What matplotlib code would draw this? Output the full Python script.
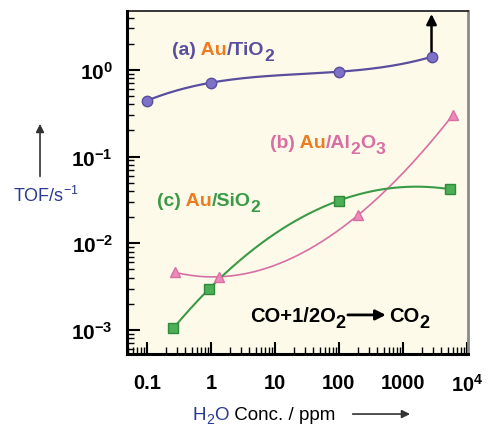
import numpy as np
import matplotlib
matplotlib.use('Agg')
import matplotlib.pyplot as plt
from matplotlib import transforms
from matplotlib.patches import FancyArrowPatch
from matplotlib.ticker import LogLocator, NullFormatter, FixedLocator, FixedFormatter

plt.rcParams['font.family'] = ['Liberation Sans', 'DejaVu Sans']
plt.rcParams['mathtext.default'] = 'regular'

# values (x: H2O conc. in ppm, y: TOF in s^-1)
tio2_x = [0.1, 1, 100, 2800]
tio2_y = [0.44, 0.71, 0.95, 1.41]
al2o3_x = [0.28, 1.33, 198, 6000]
al2o3_y = [0.0046, 0.0041, 0.021, 0.30]
sio2_x = [0.26, 0.95, 100, 5400]
sio2_y = [0.00105, 0.0030, 0.031, 0.042]

xticks = [0.1, 1, 10, 100, 1000, 1e4]
xticklabels = ['0.1', '1', '10', '100', '1000', '10$^4$']
yticks = [1e-3, 1e-2, 1e-1, 1]
yticklabels = ['10$^{-3}$', '10$^{-2}$', '10$^{-1}$', '10$^0$']

purple = '#5a4e9e'
pink = '#d86ea4'
green = '#3a9b47'
orange = '#ee7b1e'
navy = '#2b3990'

fig = plt.figure(figsize=(4.88, 4.27), dpi=100)
ax = fig.add_axes([0.260, 0.169, 0.699, 0.803])
ax.set_facecolor('#fdfae9')
ax.set_xscale('log')
ax.set_yscale('log')
ax.set_xlim(0.0487, 1.04e4)
ax.set_ylim(5.3e-4, 4.77)


def smooth(xs, ys):
    # smooth cubic through the points in log-log space
    lx, ly = np.log10(xs), np.log10(ys)
    c = np.polyfit(lx, ly, len(xs) - 1)
    t = np.linspace(lx[0], lx[-1], 200)
    return 10 ** t, 10 ** np.polyval(c, t)


ax.plot(*smooth(tio2_x, tio2_y), color=purple, lw=1.6, zorder=2)
ax.plot(tio2_x, tio2_y, 'o', ms=7.5, mfc='#7d72c8', mec=purple, mew=1, zorder=3)
ax.plot(*smooth(al2o3_x, al2o3_y), color=pink, lw=1.2, zorder=2)
ax.plot(al2o3_x, al2o3_y, '^', ms=7.5, mfc='#ee8abb', mec=pink, mew=1, zorder=3)
ax.plot(*smooth(sio2_x, sio2_y), color=green, lw=1.5, zorder=2)
ax.plot(sio2_x, sio2_y, 's', ms=6.5, mfc='#4cae55', mec='#2f8a3a', mew=1, zorder=3)

# arrow on the last TiO2 point
ax.annotate('', xy=(tio2_x[-1], 4.4), xytext=(tio2_x[-1], tio2_y[-1]),
            arrowprops=dict(arrowstyle='-|>', color='black', lw=1.8,
                            mutation_scale=15, shrinkA=4, shrinkB=0), zorder=4)

# ticks
ax.xaxis.set_major_locator(FixedLocator(xticks))
ax.xaxis.set_major_formatter(FixedFormatter(xticklabels))
ax.yaxis.set_major_locator(FixedLocator(yticks))
ax.yaxis.set_major_formatter(FixedFormatter(yticklabels))
for a in (ax.xaxis, ax.yaxis):
    a.set_minor_locator(LogLocator(base=10, subs=np.arange(2, 10), numticks=20))
    a.set_minor_formatter(NullFormatter())
ax.tick_params(which='major', direction='in', length=9, width=1.5, top=False, right=False)
ax.tick_params(which='minor', direction='in', length=5, width=1, top=False, right=False)
ax.tick_params(axis='x', which='major', pad=14, labelsize=14.5)
ax.tick_params(axis='y', which='major', pad=10, labelsize=15)
for lab in ax.get_xticklabels() + ax.get_yticklabels():
    lab.set_fontweight('bold')

ax.spines['left'].set_linewidth(2.2)
ax.spines['bottom'].set_linewidth(2.2)
ax.spines['top'].set_linewidth(1.1)
ax.spines['right'].set_linewidth(2)
ax.spines['right'].set_color('#8a8a8a')

renderer = fig.canvas.get_renderer()


def chain_text(owner, x, y, pieces, transform, size, **kw):
    # pieces: (text, colour, size factor, drop in px), one after the other on a baseline
    t = transform
    for s, c, f, dy in pieces:
        if s == 'ARROW':
            t1 = transforms.offset_copy(t, x=2, y=6, units='dots')
            t2 = transforms.offset_copy(t, x=c, y=6, units='dots')
            owner.annotate('', xy=(x, y), xycoords=t2, xytext=(x, y), textcoords=t1,
                           arrowprops=dict(arrowstyle='-|>', color='black', lw=2,
                                           mutation_scale=15, shrinkA=0, shrinkB=0))
            t = transforms.offset_copy(t, x=c + 3, units='dots')
            continue
        tt = transforms.offset_copy(t, y=-dy, units='dots')
        txt = owner.text(x, y, s, color=c, transform=tt, va='baseline', ha='left',
                         fontsize=size * f, **kw)
        ex = txt.get_window_extent(renderer)
        t = transforms.offset_copy(t, x=ex.width, units='dots')


chain_text(ax, 0.246, 1.53, [('(a)', purple, 1, 0), (' Au', orange, 1, 0),
                             ('/TiO', purple, 1, 0), ('2', purple, 0.9, 6)],
           ax.transData, 14, fontweight='bold')
chain_text(ax, 8.4, 0.130, [('(b)', pink, 1, 0), (' Au', orange, 1, 0),
                            ('/Al', pink, 1, 0), ('2', pink, 0.9, 6),
                            ('O', pink, 1, 0), ('3', pink, 0.9, 6)],
           ax.transData, 14, fontweight='bold')
chain_text(ax, 0.143, 0.0274, [('(c)', green, 1, 0), (' Au', orange, 1, 0),
                               ('/SiO', green, 1, 0), ('2', green, 0.9, 6)],
           ax.transData, 14, fontweight='bold')
chain_text(ax, 4.06, 0.00127, [('CO+1/2O', 'black', 1, 0), ('2', 'black', 0.9, 6),
                               ('ARROW', 40, 0, 0),
                               ('CO', 'black', 1, 0), ('2', 'black', 0.9, 6)],
           ax.transData, 14.5, fontweight='bold')

# axis titles
fig.text(0.027, 0.527, 'TOF/s$^{-1}$', color=navy, fontsize=13, va='baseline')
fig.add_artist(FancyArrowPatch((0.082, 0.578), (0.082, 0.714),
               transform=fig.transFigure, arrowstyle='-|>', mutation_scale=12,
               color='#333333', lw=1.2))
chain_text(fig, 0.395, 0.016, [('H', navy, 1, 0), ('2', navy, 0.75, 4),
                               ('O', navy, 1, 0), (' Conc. / ppm', 'black', 1, 0)],
           fig.transFigure, 13.5)
fig.add_artist(FancyArrowPatch((0.717, 0.028), (0.846, 0.028),
               transform=fig.transFigure, arrowstyle='-|>', mutation_scale=12,
               color='#333333', lw=1.2))

fig.savefig('out.png', dpi=100)
